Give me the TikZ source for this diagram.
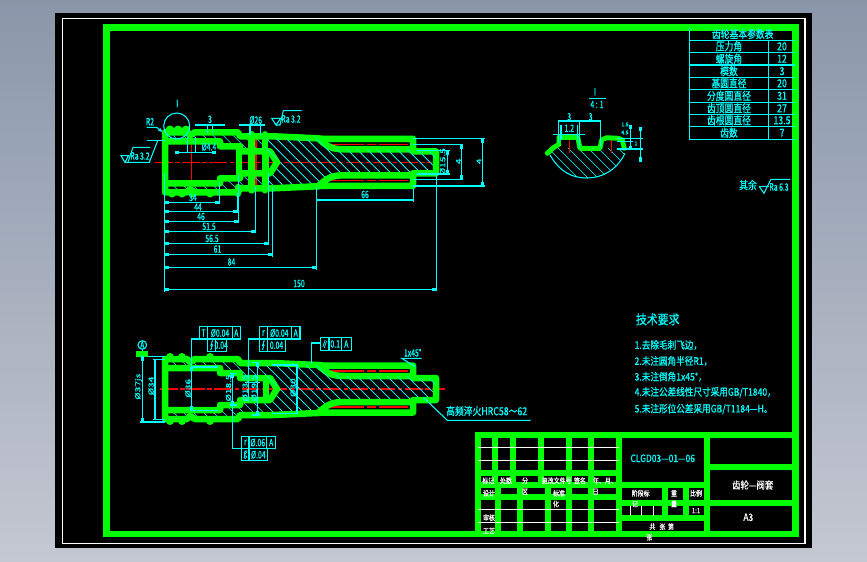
\documentclass[tikz,border=0pt]{standalone}
\usepackage{fontspec}
\newfontfamily\cjk[FakeBold=0.7]{Noto Sans CJK SC}
\usetikzlibrary{arrows.meta}
\definecolor{cadgreen}{RGB}{0,255,0}
\definecolor{cadcyan}{RGB}{0,255,255}
\definecolor{cadred}{RGB}{255,0,0}
\tikzset{
  frameln/.style={cadgreen,line width=3.9pt,line join=miter},
  blockln/.style={cadgreen,line width=3.3pt,line join=miter},
  shaftln/.style={cadgreen,line width=3.7pt,line join=round,line cap=round},
  dimln/.style={cadcyan,line width=0.6pt},
  tick/.style={dimln,{Rectangle[length=2.4pt,width=1.5pt]}-{Rectangle[length=2.4pt,width=1.5pt]}},
  redln/.style={cadred,line width=0.8pt},
  centerln/.style={redln,dash pattern=on 10pt off 1.5pt on 2.5pt off 1.5pt},
  hatchln/.style={cadcyan,line width=0.35pt},
  lab/.style={text=cadcyan,inner sep=0pt,xscale=0.85,yscale=1.25,transform shape,font=\cjk\fontsize{4.6}{5}\selectfont},
  labsm/.style={text=cadcyan,inner sep=0pt,font=\cjk\fontsize{3}{3.5}\selectfont},
  tab/.style={text=cadcyan,inner sep=0pt,yscale=1.25,transform shape,font=\cjk\fontsize{5}{6}\selectfont},
  req/.style={text=cadcyan,inner sep=0pt,anchor=west,yscale=1.2,transform shape,font=\cjk\fontsize{4.9}{6}\selectfont},
  blk/.style={text=white,inner sep=0pt,yscale=1.2,transform shape,font=\cjk\fontsize{3.4}{4}\selectfont},
  big/.style={text=white,inner sep=0pt,yscale=1.2,transform shape,font=\cjk\fontsize{4.8}{6}\selectfont},
}
\newcommand{\shafthalf}{%
  \begin{scope}
    \clip (265,-24)--(318,-24)--(330,-15)--(345,-13)--(413,-13)--(413,-11)--(436,-11)--(436,11)--(413,11)--(413,13)--(345,13)--(330,15)--(318,24)--(265,24)--(265,11)--(277,0)--(265,-11)--cycle;
    \foreach \a in {180,190,...,440} \draw[hatchln] (\a,{-40*\s})--(\a+80,{40*\s});
  \end{scope}
  \begin{scope}
    \clip (168,-30)--(238,-30)--(238,-26)--(265,-26)--(265,-11)--(240,-11)--(240,-16)--(220,-16)--(220,-21)--(168,-21)--cycle;
    \foreach \a in {100,110,...,300} \draw[hatchln] (\a,{-40*\s})--(\a+80,{40*\s});
  \end{scope}
  \draw[redln,dash pattern=on 22pt off 2pt on 5pt off 2pt] (325,-18)--(408,-18);
  \draw[shaftln] (165,0)--(165,-30)--(187,-30)--(190,-27)--(195,-30)--(238,-30)--(240,-26)--(273,-26)--(317,-24)--(323,-23.5)--(413,-23.5)--(413,-11)--(436,-11)--(436,0);
  \draw[shaftln] (318,-24) .. controls (328,-15) and (332,-13) .. (345,-13)--(413,-13);
  \draw[shaftln] (165,-21)--(220,-21)--(220,-16)--(240,-16)--(240,-11)--(270,-11)--(277,0);
  \draw[shaftln] (266,-11)--(266,0);
}
\newcommand{\gearhatch}{\foreach \a in {470,480,...,640} \draw[hatchln] (\a,120)--(\a+70,190);}
\begin{document}
\begin{tikzpicture}[x=0.02cm,y=-0.02cm]
\useasboundingbox (0,0) rectangle (867,562);
\fill[top color={rgb,255:red,138;green,151;blue,170},bottom color={rgb,255:red,196;green,200;blue,210}] (0,0) rectangle (867,562);
\fill[black] (55,13) rectangle (812,548);
\draw[white,line width=0.7pt] (62.5,18.5) rectangle (805,543.5);
\draw[frameln] (106.5,27.5) rectangle (795.5,534);

\draw[centerln] (155,162.3)--(432,162.3);
\draw[centerln] (160,389)--(445,389);
\draw[redln] (191.7,138)--(191.7,182);
\draw[redln] (256,138)--(256,187);
\foreach \s in {1,-1} {
  \begin{scope}[shift={(0,162.3)},yscale=\s]
    \shafthalf
    \draw[shaftln] (239,-16)--(239,0);
    \draw[shaftln] (251.7,-28)--(251.7,0);
    \draw[shaftln] (265,-28)--(265,0);
  \end{scope}
  \begin{scope}[shift={(0,389)},yscale=\s]
    \shafthalf
  \end{scope}
}
\foreach \x in {170,178,186} \fill[cadgreen] (\x,130) circle (4.5);
\foreach \x in {172,182,192,210} \fill[cadgreen] (\x,193.5) circle (4);
\foreach \x in {170,182,210} {
  \fill[cadgreen] (\x,357) circle (4);
  \fill[cadgreen] (\x,421) circle (4);
}
\draw[shaftln] (238,187)--(238,194);
\fill[cadgreen] (136,350.7) rectangle (148.3,356.7);

\draw[dimln] (176.7,126) circle (13);
\draw (177.3,103.3) node[lab] {I};
\draw (150,121.7) node[lab] {R2};
\draw[dimln,-{Latex[length=3pt,width=2pt]}] (146.7,127.3)--(156.7,127.3)--(163.3,132.7);
\draw[dimln] (121,155.7)--(125,162.3)--(128.5,155.7)--cycle;
\draw[dimln] (125,162.3)--(149.3,162.3)--(157.5,141);
\draw[dimln] (128,162.3)--(133,147.3)--(150,147.3);
\draw[dimln] (147,140.7)--(165,140.7);
\draw (140,156) node[lab] {Ra 3.2};
\draw[dimln] (195,125)--(225,125);
\draw[dimln] (207.7,125)--(207.7,133);
\draw[dimln] (212.3,125)--(212.3,133);
\draw (210,119.3) node[lab] {3};
\draw[tick] (175,152.3)--(216,152.3);
\draw[dimln] (187.3,136.7)--(187.3,153.3);
\draw[dimln] (195.7,136.7)--(195.7,153.3);
\draw (209,146.7) node[lab] {Ø4.4};
\draw[dimln] (239.3,125)--(265,125);
\draw[dimln] (250,125)--(250,135);
\draw[dimln] (260.7,125)--(260.7,135);
\draw (255.7,120) node[lab] {Ø26};
\draw[dimln] (271.7,118.3)--(276,125)--(280.7,118.3)--cycle;
\draw[dimln] (276,125)--(280,125)--(283.3,110.7)--(301.7,110.7);
\draw (291,119) node[lab] {Ra 3.2};

\draw[dimln] (164.3,173)--(164.3,292);
\draw[dimln] (219.3,182)--(219.3,204);
\draw[dimln] (237.7,193)--(237.7,213);
\draw[dimln] (238.3,175)--(238.3,223);
\draw[dimln] (255.7,187)--(255.7,233);
\draw[dimln] (268.3,173)--(268.3,245);
\draw[dimln] (272.3,187)--(272.3,257);
\draw[dimln] (316.3,187)--(316.3,270);
\draw[dimln] (413.3,188)--(413.3,202);
\draw[dimln] (436.3,173)--(436.3,291);
\draw[tick] (164.3,202.3)--(219.3,202.3);
\draw[tick] (164.3,211.7)--(237.7,211.7);
\draw[tick] (164.3,221.3)--(238.3,221.3);
\draw[tick] (164.3,231.7)--(255.7,231.7);
\draw[tick] (164.3,243.3)--(268.3,243.3);
\draw[tick] (164.3,254.3)--(272.3,254.3);
\draw[tick] (164.3,267.3)--(316.3,267.3);
\draw[tick] (164.3,289.3)--(436.3,289.3);
\draw[tick] (316.3,200)--(413.3,200);
\draw (193,197.5) node[lab] {34};
\draw (198,207) node[lab] {44};
\draw (201,216.5) node[lab] {46};
\draw (209,226.5) node[lab] {51.5};
\draw (212,238.5) node[lab] {56.5};
\draw (217.5,249) node[lab] {61};
\draw (231.5,262) node[lab] {84};
\draw (299,283.5) node[lab] {150};
\draw (365,194.5) node[lab] {66};

\draw[dimln] (413.3,138.3)--(485,138.3);
\draw[dimln] (413.3,186)--(485,186);
\draw[dimln] (413.3,144.3)--(463.3,144.3);
\draw[dimln] (413.3,179.3)--(463.3,179.3);
\draw[dimln] (416.7,150.7)--(450,150.7);
\draw[dimln] (416.7,174)--(450,174);
\draw[tick] (482.3,138.3)--(482.3,186);
\draw[tick] (461.7,144.3)--(461.7,179.3);
\draw[tick] (447.3,150.7)--(447.3,174);
\draw (479,161.3) node[lab,rotate=90] {4};
\draw (458.5,161.3) node[lab,rotate=90] {4};
\draw (442.7,161.7) node[lab,rotate=90] {Ø15.5};

\draw[cadcyan,line width=0.6pt,fill=none] (142.3,345) circle (4.3);
\draw (142.3,345) node[lab] {A};
\draw[dimln] (142.3,349.3)--(142.3,351);
\draw[dimln] (148,356.3)--(165,356.3);
\draw[dimln] (140,422)--(165,422);
\draw[tick] (142.3,356.3)--(142.3,422);
\draw (138.5,386.7) node[lab,rotate=90] {Ø37js};
\draw[dimln] (153,359.3)--(165,359.3);
\draw[dimln] (153,419.3)--(165,419.3);
\draw[tick] (155,359.3)--(155,419.3);
\draw (151,386) node[lab,rotate=90] {Ø34};
\draw[dimln] (191.7,367)--(218.3,367);
\draw[dimln] (191.7,410.7)--(218.3,410.7);
\draw[tick] (191.7,367)--(191.7,410.7);
\draw[dimln] (191.7,367)--(191.7,339)--(199.3,339);
\draw (188,388.3) node[lab,rotate=90] {Ø36};
\draw[dimln] (230,373.3)--(236.7,373.3);
\draw[dimln] (230,405)--(236.7,405);
\draw[tick] (232.3,373.3)--(232.3,405);
\draw[dimln] (232.3,405)--(232.3,448.7)--(241.7,448.7);
\draw (228.5,388) node[lab,rotate=90] {Ø18.5};
\draw[dimln] (245,382.7)--(260,382.7);
\draw[dimln] (248.3,339)--(248.3,401.7);
\draw[dimln] (248.3,339)--(259.3,339);
\draw (245,388) node[lab,rotate=90] {Ø13.5};
\draw[dimln] (251.7,362.3)--(260,362.3);
\draw[dimln] (251.7,415)--(260,415);
\draw[tick] (257.7,362.3)--(257.7,415);
\draw (254,388) node[lab,rotate=90] {Ø19.5};
\draw[dimln] (271.7,365)--(298.3,365);
\draw[dimln] (271.7,413.3)--(298.3,413.3);
\draw[tick] (297,365)--(297,413.3);
\draw (293,387.7) node[lab,rotate=90] {Ø30};

\draw[dimln] (199.3,326.7) rectangle (240.3,339);
\draw[dimln] (207.7,326.7)--(207.7,351.3);
\draw[dimln] (232.3,326.7)--(232.3,339);
\draw[dimln] (207.7,339) rectangle (226.7,351.3);
\draw[dimln] (215.7,339)--(215.7,351.3);
\draw (203.5,333) node[lab] {T};
\draw (220,333) node[lab] {Ø0.04};
\draw (236.3,333) node[lab] {A};
\draw (211.7,345.2) node[lab] {∮};
\draw (221.2,345.2) node[lab] {0.04};
\draw[dimln] (259.3,326.7) rectangle (300,339);
\draw[dimln] (267.3,326.7)--(267.3,351.3);
\draw[dimln] (291.3,326.7)--(291.3,339);
\draw[dimln] (259.3,339) rectangle (285.7,351.3);
\draw (263.3,333) node[lab] {r};
\draw (279.3,333) node[lab] {Ø0.04};
\draw (295.7,333) node[lab] {A};
\draw (263.3,345.2) node[lab] {∮};
\draw (276.5,345.2) node[lab] {0.04};
\draw[dimln] (241.7,436.3) rectangle (275.7,448.7);
\draw[dimln] (249,436.3)--(249,460.7);
\draw[dimln] (266.7,436.3)--(266.7,448.7);
\draw[dimln] (241.7,448.7) rectangle (267.7,460.7);
\draw (245.3,442.5) node[lab] {r};
\draw (257.8,442.5) node[lab] {Ø.06};
\draw (271.2,442.5) node[lab] {A};
\draw (245.3,454.7) node[lab] {g};
\draw (258.3,454.7) node[lab] {Ø.04};
\draw[dimln] (320.3,337.3) rectangle (351.3,350.7);
\draw[dimln] (329,337.3)--(329,350.7);
\draw[dimln] (341.3,337.3)--(341.3,350.7);
\draw (324.7,344) node[lab] {∥};
\draw (335.2,344) node[lab] {0.1};
\draw (346.3,344) node[lab] {A};
\draw[dimln] (320.3,343)--(311.7,343)--(311.7,364.3);
\draw (412.7,352.7) node[lab] {1x45°};
\draw[dimln] (421.7,358.3)--(401.7,358.3)--(415,366.7);
\draw (486.7,411) node[tab] {高频淬火HRC58～62};
\draw[dimln] (530.7,420.3)--(447.3,420.3)--(423.3,397.3);

\begin{scope}
  \clip (550,148) -- (625,148) -- (625,153.3) .. controls (617,170) and (602,178) .. (587,178) .. controls (572,178) and (560,172) .. (550,155) -- cycle;
  \gearhatch
\end{scope}
\draw[dimln] (550,155) .. controls (560,172) and (572,178) .. (587,178) .. controls (602,178) and (617,170) .. (625,153.3);
\draw[redln] (569.3,135)--(569.3,153.3);
\draw[redln] (611.3,137)--(611.3,153.3);
\draw[cadgreen,line width=2.8pt,line join=round,line cap=round] (547.3,153.3)--(553.3,147.7)--(559,144.3)--(559,137.3)--(577.7,137.3)--(580,148.3)--(600,148.3)--(601.7,140)--(606.7,137.7)--(618.3,138.3)--(622.3,140)--(624.3,148.3);
\fill[black] (561,139.5) rectangle (568,144);
\fill[black] (570.5,139.5) rectangle (576,146);
\fill[black] (604,141) rectangle (610,147);
\draw[dimln] (558.3,121)--(600.7,121);
\draw[dimln] (558.3,120)--(558.3,143);
\draw[dimln] (579.3,120)--(579.3,148);
\draw[dimln] (600.7,120)--(600.7,147);
\draw[tick] (558.3,121)--(579.3,121);
\draw[tick] (579.3,121)--(600.7,121);
\draw (569.3,116.7) node[lab] {3};
\draw (590.7,116.7) node[lab] {3};
\draw[dimln] (553.3,134.3)--(585,134.3);
\draw[dimln] (561,125)--(561,140);
\draw[dimln] (577.5,125)--(577.5,140);
\draw (569.3,128.3) node[lab] {1.2};
\draw (595,91.7) node[lab] {I};
\draw[dimln] (589,98.3)--(605.7,98.3);
\draw (597,104.5) node[lab] {4 : 1};
\draw[dimln] (616.7,138.3)--(643.3,138.3);
\draw[dimln] (616.7,149)--(643.3,149);
\draw[dimln] (616.7,141.7)--(633,141.7);
\draw[tick] (630.7,125)--(630.7,150);
\draw[tick] (640.7,126.7)--(640.7,161.7);
\draw (625,124.5) node[labsm] {1.5};
\draw (625,132.5) node[labsm] {4.5};
\draw (636,143.5) node[labsm] {1};

\draw[dimln] (689.3,28)--(689.3,139.3);
\draw[dimln] (768.3,40.3)--(768.3,139.3);
\foreach \y in {40.3,52.3,65,77.3,89.3,102.3,114.3,126.3,139.3} \draw[dimln] (689.3,\y)--(795,\y);
\draw (742.7,34) node[tab] {齿轮基本参数表};
\foreach \y/\t/\v in {46.3/压力角/20,58.7/螺旋角/12,71.2/模数/3,83.3/基圆直径/20,95.8/分度圆直径/31,108.3/齿顶圆直径/27,120.3/齿根圆直径/13.5,132.8/齿数/7} {
  \draw (729,\y) node[tab] {\t};
  \draw (782,\y) node[tab] {\v};
}
\draw (748,185) node[tab] {其余};
\draw[dimln] (759.3,186.7)--(764,193.3)--(771,179.3)--(790,179.3);
\draw[dimln] (759.3,186.7)--(768.7,186.7);
\draw (779,187) node[lab] {Ra 6.3};

\draw (657.7,319.3) node[text=cadcyan,inner sep=0pt,yscale=1.2,transform shape,font=\cjk\fontsize{6.2}{7}\selectfont] {技术要求};
\draw (634.3,345) node[req] {1.去除毛刺飞边，};
\draw (634.3,361) node[req] {2.未注圆角半径R1，};
\draw (634.3,376.7) node[req] {3.未注倒角1x45°，};
\draw (634.3,392.3) node[req] {4.未注公差线性尺寸采用GB/T1840，};
\draw (634.3,409) node[req] {5.未注形位公差采用GB/T1184—H。};

\draw[blockln] (478,435) rectangle (795.5,534);
\foreach \x in {495,512.7,541,569.3,590.7} \draw[blockln] (\x,435)--(\x,485);
\foreach \x in {498,520,548,569.3,590.7} \draw[blockln] (\x,485)--(\x,534);
\foreach \y in {472.7,485,497} \draw[blockln] (478,\y)--(619,\y);
\draw[blockln] (619,435)--(619,534);
\draw[blockln] (707,435)--(707,534);
\draw[blockln] (619,485)--(707,485);
\draw[blockln] (619,502.7)--(707,502.7);
\draw[blockln] (619,518)--(707,518);
\draw[blockln] (665.3,485)--(665.3,518);
\draw[blockln] (686,485)--(686,518);
\draw[blockln] (707,467.3)--(795.5,467.3);
\draw[blockln] (707,502.7)--(795.5,502.7);
\foreach \y in {447.3,460.3,509.3,522.3} \draw[white,line width=0.6pt] (478,\y)--(619,\y);
\foreach \x in {630.3,641.7,653.3} \draw[white,line width=0.6pt] (\x,505.7)--(\x,516);
\draw (662.7,458.3) node[text=cadcyan,inner sep=0pt,yscale=1.2,transform shape,font=\cjk\fontsize{4.8}{6}\selectfont] {CLGD03—01—06};
\foreach \x/\y/\t in {488.3/480.7/标记,506/480.7/处数,525/480.7/分,525/491.7/区,556.7/480.7/更改文件号,580/480.7/签名,605/480.7/年、月、,595.7/491.7/日,489/493.3/设计,559/493.3/标准,556/504/化,489/517.7/审核,489/530.7/工艺,640.7/493.3/阶段标,635/504/记,674/493.3/重,674/504/量,696/493.3/比例,696/510.7/1:1,649.3/537.3/张} \draw (\x,\y) node[blk] {\t};
\draw (661.7,526.7) node[blk] {共\ \ \ 张\ \ 第};
\draw (752.7,485) node[big] {齿轮—阀套};
\draw (748.3,517.3) node[big] {A3};
\end{tikzpicture}
\end{document}
